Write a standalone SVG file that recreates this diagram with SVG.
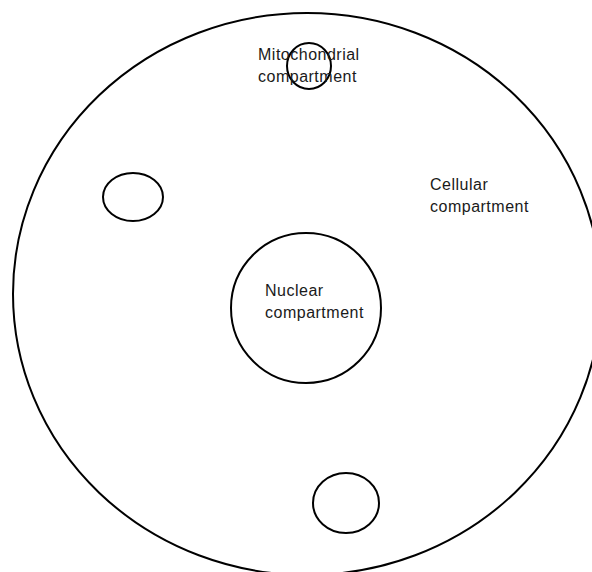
<svg xmlns="http://www.w3.org/2000/svg" width="592" height="572" viewBox="0 0 592 572">
<style>
.shape{fill:none;stroke:#000;stroke-width:2}
.lbl{font-family:"Liberation Sans",Arial,sans-serif;font-size:16px;letter-spacing:0.5px;fill:#1a1a1a}
</style>
<rect width="592" height="572" fill="#fff"/>
<g id="cellular">
<ellipse class="shape" cx="307" cy="294" rx="294" ry="281"/>
<text class="lbl" x="430" y="190">Cellular</text>
<text class="lbl" x="430" y="212">compartment</text>
</g>
<g id="mitochondrial">
<ellipse class="shape" cx="309" cy="66" rx="22" ry="23"/>
<text class="lbl" x="258" y="60">Mitochondrial</text>
<text class="lbl" x="258" y="82">compartment</text>
</g>
<g id="organelle-left">
<ellipse class="shape" cx="133" cy="197" rx="30" ry="24"/>
</g>
<g id="nuclear">
<ellipse class="shape" cx="306" cy="308" rx="75" ry="75"/>
<text class="lbl" x="265" y="296">Nuclear</text>
<text class="lbl" x="265" y="318">compartment</text>
</g>
<g id="organelle-bottom">
<ellipse class="shape" cx="346" cy="503" rx="33" ry="30"/>
</g>
<g id="connectors"></g>
</svg>
